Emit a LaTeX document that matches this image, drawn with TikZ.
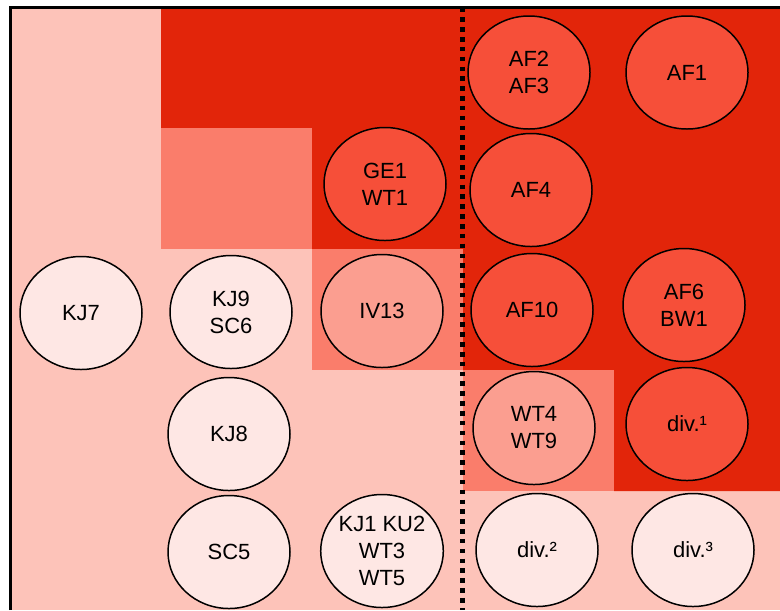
\documentclass[tikz,border=0pt]{standalone}
\usepackage{fontspec}
\setmainfont{Liberation Sans}
\usepackage{xcolor}
\usetikzlibrary{shapes.geometric}
\definecolor{bgpink}{HTML}{FDC3B9}
\definecolor{darkred}{HTML}{E2250A}
\definecolor{salmon}{HTML}{FA7D6B}
\definecolor{ovhi}{HTML}{F64F39}
\definecolor{ovmid}{HTML}{FB9E90}
\definecolor{ovlo}{HTML}{FEE7E4}

\begin{document}
\begin{tikzpicture}[
    oval/.style={draw, ellipse, line width=0.85pt, minimum width=2.44cm, minimum height=2.26cm, inner sep=0pt, align=center, font=\fontsize{12.5}{15.4}\selectfont},
    hi/.style={oval, fill=ovhi},
    mid/.style={oval, fill=ovmid},
    lo/.style={oval, fill=ovlo},
    divider/.style={line width=2.3pt, dash pattern=on 2.6pt off 3pt}
]
    \useasboundingbox (0,0) rectangle (15.6,-12.2);

    % 背景色块
    \fill[bgpink] (0.21,-0.15) rectangle (15.6,-12.2);
    \fill[darkred] (3.22,-0.15) -- (15.6,-0.15) -- (15.6,-9.82) -- (12.28,-9.82) -- (12.28,-7.4) -- (9.25,-7.4) -- (9.25,-4.98) -- (6.24,-4.98) -- (6.24,-2.56) -- (3.22,-2.56) -- cycle;
    \fill[salmon] (3.22,-2.56) rectangle (6.24,-4.98);
    \fill[salmon] (6.24,-4.98) rectangle (9.25,-7.4);
    \fill[salmon] (9.25,-7.4) rectangle (12.28,-9.82);
    \draw[line width=1.7pt, line join=miter] (0.21,-12.2) -- (0.21,-0.15) -- (15.6,-0.15);

    % 分隔线
    \coordinate (cut top) at (9.25,-0.15);
    \coordinate (cut bot) at (9.25,-12.2);
    \draw[divider] (cut top) -- (cut bot);

    \node[hi] (af2) at (10.58,-1.45) {AF2\\AF3};
    \node[hi] (af1) at (13.74,-1.45) {AF1};

    \node[hi] (ge1) at (7.7,-3.68) {GE1\\WT1};
    \node[hi] (af4) at (10.62,-3.8) {AF4};

    \node[lo] (kj7) at (1.62,-6.26) {KJ7};
    \node[lo] (kj9) at (4.62,-6.24) {KJ9\\SC6};
    \node[mid] (iv13) at (7.64,-6.22) {IV13};
    \node[hi] (af10) at (10.64,-6.2) {AF10};
    \node[hi] (af6) at (13.68,-6.1) {AF6\\BW1};

    \node[lo] (kj8) at (4.58,-8.68) {KJ8};
    \node[mid] (wt4) at (10.68,-8.56) {WT4\\WT9};
    \node[hi] (div1) at (13.74,-8.48) {div.¹};

    \node[lo] (sc5) at (4.58,-11.04) {SC5};
    \node[lo] (kj1) at (7.64,-11.02) {KJ1 KU2\\WT3\\WT5};
    \node[lo] (div2) at (10.74,-11.0) {div.²};
    \node[lo] (div3) at (13.86,-11.0) {div.³};
\end{tikzpicture}
\end{document}
